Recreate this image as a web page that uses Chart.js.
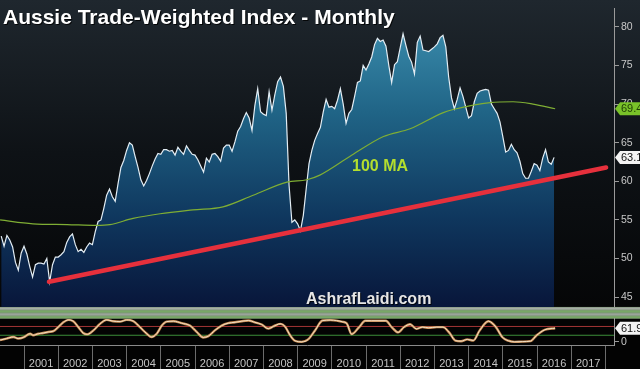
<!DOCTYPE html>
<html>
<head>
<meta charset="utf-8">
<script src="https://cdn.jsdelivr.net/npm/chart.js@4.4.1/dist/chart.umd.min.js"></script>
<style>
  html, body { margin: 0; padding: 0; background: #000; }
  #wrap { width: 640px; height: 369px; }
</style>
</head>
<body>
<div id="wrap"><canvas id="chart" width="640" height="369"></canvas></div>
<script>
// Aussie TWI, monthly closes from May 2000 to Jul 2016
const startYear = 2000;
const startMonth = 5;
const price = [
  52.9, 51.6, 53.0, 52.4, 51.5, 49.5, 48.5, 50.7,
  51.6, 50.6, 49.0, 47.6, 49.2, 49.4, 49.4, 49.3, 50.0, 47.0, 49.2, 50.2,
  50.2, 50.5, 50.9, 52.1, 52.8, 53.2, 51.8, 50.9, 51.2, 50.8, 51.5, 52.0,
  51.8, 53.5, 54.8, 55.0, 56.5, 58.2, 59.0, 58.0, 57.4, 59.7, 61.8, 62.7,
  64.0, 65.0, 64.7, 63.2, 61.8, 60.2, 59.4, 60.1, 61.0, 62.0, 62.9, 63.6,
  63.5, 64.1, 64.1, 63.9, 64.0, 63.4, 64.4, 63.9, 63.5, 64.6, 64.0, 63.5,
  63.4, 62.8, 62.0, 61.2, 63.0, 62.5, 63.5, 63.6, 63.2, 62.6, 64.3, 64.7,
  64.7, 63.9, 65.1, 66.5, 67.1, 68.1, 68.9, 68.2, 66.6, 69.8, 72.0, 69.0,
  68.7, 68.5, 71.6, 69.2, 71.2, 72.9, 73.5, 72.3, 68.8, 59.5, 54.7, 55.0,
  54.5, 53.6, 55.6, 59.0, 62.3, 64.0, 65.3, 66.2, 67.0, 69.0, 70.6, 69.6,
  69.7, 69.4, 70.5, 72.0, 70.0, 67.5, 68.8, 69.3, 71.0, 72.8, 73.0, 75.0,
  74.4, 75.2, 76.1, 77.7, 78.5, 78.1, 78.3, 77.5, 75.0, 72.8, 75.1, 75.5,
  77.3, 79.1, 77.6, 76.2, 75.4, 73.9, 78.0, 78.8, 77.0, 76.9, 76.8, 77.1,
  77.4, 77.8, 78.6, 78.9, 77.4, 73.5, 70.8, 69.4, 70.6, 72.1, 71.0, 69.6,
  68.2, 68.5, 70.3, 71.4, 71.7, 71.8, 71.9, 71.8, 70.0, 69.4, 68.8, 67.7,
  65.8, 63.8, 64.0, 64.8, 64.1, 63.7, 62.6, 61.0, 60.4, 60.4, 61.3, 62.3,
  62.1, 61.4, 63.0, 64.1, 62.5, 62.2, 63.1
];

// 100-month moving average, read at points along the curve
const maDates = [2000.30, 2001.26, 2002.26, 2003.13, 2003.51, 2004.19, 2004.98, 2005.94, 2006.82, 2007.70, 2008.69,
  2009.27, 2009.65, 2010.59, 2011.51, 2012.29, 2013.26, 2013.55, 2014.63, 2015.30, 2015.88, 2016.53];
const maValues = [55.0, 54.5, 54.4, 54.3, 54.4, 55.2, 55.8, 56.3, 56.7, 58.2, 59.9,
  60.2, 60.8, 63.4, 65.8, 66.8, 68.9, 69.3, 70.2, 70.3, 70.0, 69.4];

// support line
const trendDates = [2001.73, 2018.02];
const trendValues = [47.0, 61.8];

// stochastic panel
const stochDates = [2000.30, 2000.49, 2000.69, 2000.83, 2000.98, 2001.18, 2001.27, 2001.42, 2001.56, 2001.71, 2001.86,
  2002.00, 2002.15, 2002.30, 2002.44, 2002.59, 2002.73, 2002.85, 2003.03, 2003.22, 2003.42, 2003.61, 2003.81,
  2004.00, 2004.20, 2004.39, 2004.59, 2004.73, 2004.88, 2005.03, 2005.17, 2005.37, 2005.61, 2005.85,
  2006.05, 2006.24, 2006.39, 2006.58, 2006.78, 2006.97, 2007.17, 2007.37, 2007.56, 2007.75, 2007.95,
  2008.14, 2008.29, 2008.49, 2008.63, 2008.78, 2008.92, 2009.12, 2009.31, 2009.51, 2009.73, 2009.96,
  2010.32, 2010.44, 2010.58, 2010.80, 2010.98, 2011.16, 2011.58, 2011.75, 2011.94, 2012.11, 2012.29,
  2012.47, 2012.65, 2012.83, 2013.07, 2013.25, 2013.43, 2013.61, 2013.78, 2013.96, 2014.14, 2014.32,
  2014.58, 2014.80, 2014.98, 2015.16, 2015.34, 2015.57, 2015.81, 2015.99, 2016.23, 2016.53];
const stochValues = [8, 15, 22, 15, 20, 37, 30, 37, 40, 45, 49,
  67, 89, 100, 94, 67, 40, 34, 52, 82, 100, 94, 92,
  100, 94, 67, 37, 22, 37, 74, 92, 94, 85, 74,
  45, 20, 26, 52, 74, 85, 89, 94, 97, 89, 79,
  60, 70, 82, 70, 30, 5, 0, 11, 52, 97, 99,
  91, 83, 35, 67, 96, 96, 96, 67, 43, 67, 80,
  59, 67, 64, 67, 67, 43, 6, 3, 11, 6, 51,
  94, 67, 22, 5, 0, 1, 3, 30, 55, 61.9];
const stochLevels = [70, 30];

const yearTicks = [2001, 2002, 2003, 2004, 2005, 2006, 2007, 2008, 2009, 2010, 2011, 2012, 2013, 2014, 2015, 2016, 2017, 2018];
const priceTicks = [45, 47.5, 50, 52.5, 55, 57.5, 60, 62.5, 65, 67.5, 70, 72.5, 75, 77.5, 80];
const stochTicks = [0, 100];

const titleText = 'Aussie Trade-Weighted Index - Monthly';
const maText = '100 MA';
const markText = 'AshrafLaidi.com';

const xMin = 2000.298;
const xMax = 2018.251;
const FONT = '"Liberation Sans", Arial, sans-serif';

const pricePts = price.map((v, i) => ({ x: startYear + (startMonth - 1 + i) / 12, y: v }));
const maPts = maDates.map((d, i) => ({ x: d, y: maValues[i] }));
const trendPts = trendDates.map((d, i) => ({ x: d, y: trendValues[i] }));
const stochPts = stochDates.map((d, i) => ({ x: d, y: stochValues[i] }));
const levelSets = stochLevels.map(l => [{ x: xMin, y: l }, { x: xMax, y: l }]);

const fillGradient = (ctx) => {
  const chart = ctx.chart;
  const y = chart.scales && chart.scales.y;
  if (!chart.chartArea || !y || !isFinite(y.top) || !isFinite(y.bottom) || y.bottom <= y.top) {
    return 'rgba(30,90,130,0.8)';
  }
  const g = chart.ctx.createLinearGradient(0, y.top, 0, y.bottom);
  g.addColorStop(0, 'rgb(62,146,178)');
  g.addColorStop(0.35, 'rgb(32,100,134)');
  g.addColorStop(0.7, 'rgb(15,55,94)');
  g.addColorStop(1, 'rgb(8,22,58)');
  return g;
};

const drawTag = (ctx, x, y, text, fill, color) => {
  const h = 13;
  ctx.beginPath();
  ctx.moveTo(x, y);
  ctx.lineTo(x + 5, y - h / 2);
  ctx.lineTo(640, y - h / 2);
  ctx.lineTo(640, y + h / 2);
  ctx.lineTo(x + 5, y + h / 2);
  ctx.closePath();
  ctx.fillStyle = fill;
  ctx.fill();
  ctx.fillStyle = color;
  ctx.font = '11px ' + FONT;
  ctx.textAlign = 'left';
  ctx.textBaseline = 'middle';
  ctx.fillText(text, x + 6, y + 0.5);
};

const backdrop = {
  id: 'backdrop',
  beforeDraw(chart) {
    const { ctx } = chart;
    const y = chart.scales.y;
    const band = chart.scales.yBand;
    ctx.save();
    ctx.fillStyle = '#030303';
    ctx.fillRect(0, 0, chart.width, chart.height);
    const g = ctx.createLinearGradient(0, 0, 0, y.bottom);
    g.addColorStop(0, '#1f272e');
    g.addColorStop(0.5, '#0e1216');
    g.addColorStop(1, '#050607');
    ctx.fillStyle = g;
    ctx.fillRect(0, 0, chart.width, y.bottom);
    // separator band between panels
    const top = band.top, h = band.bottom - band.top;
    ctx.fillStyle = '#7e9678';
    ctx.fillRect(0, top, chart.width, h);
    const stripes = [['#a7ada6', 0.05], ['#78a866', 0.3], ['#9aa49a', 0.55], ['#78a866', 0.8]];
    stripes.forEach(([c, f]) => {
      ctx.fillStyle = c;
      ctx.fillRect(0, top + f * h, chart.width, 2);
    });
    ctx.restore();
  }
};

const overlay = {
  id: 'overlay',
  afterDraw(chart) {
    const { ctx } = chart;
    const y = chart.scales.y;
    const yS = chart.scales.yS;
    const x = chart.scales.x;
    ctx.save();
    ctx.textAlign = 'left';
    ctx.textBaseline = 'alphabetic';

    ctx.shadowColor = 'rgba(0,0,0,0.8)';
    ctx.shadowOffsetX = 1;
    ctx.shadowOffsetY = 1;
    ctx.font = 'bold 21px ' + FONT;
    ctx.fillStyle = '#ffffff';
    ctx.fillText(titleText, 3, 24);

    ctx.font = 'bold 16px ' + FONT;
    ctx.fillStyle = '#e6e6e6';
    ctx.fillText(markText, 306, 304);

    ctx.shadowColor = 'transparent';
    ctx.font = 'bold 16px ' + FONT;
    ctx.fillStyle = '#b4de2e';
    ctx.fillText(maText, x.getPixelForValue(2010.59), y.getPixelForValue(61.35));

    const left = y.left + 1;
    drawTag(ctx, left, y.getPixelForValue(maValues[maValues.length - 1]),
      maValues[maValues.length - 1].toFixed(1), '#79c229', '#1f3d05');
    drawTag(ctx, left, y.getPixelForValue(price[price.length - 1]),
      price[price.length - 1].toFixed(1), '#f4f4f4', '#111');
    drawTag(ctx, left, yS.getPixelForValue(stochValues[stochValues.length - 1]),
      stochValues[stochValues.length - 1].toFixed(1), '#f4f4f4', '#111');
    ctx.restore();
  }
};

const lineBase = { pointRadius: 0, fill: false };

new Chart(document.getElementById('chart'), {
  type: 'line',
  data: {
    datasets: [
      { ...lineBase, label: 'Stoch %K', data: stochPts, yAxisID: 'yS', borderColor: '#f0e2c8', borderWidth: 1, tension: 0.4, cubicInterpolationMode: 'monotone', order: 0 },
      { ...lineBase, label: 'Stoch %D', data: stochPts, yAxisID: 'yS', borderColor: '#c98a52', borderWidth: 2.4, tension: 0.4, cubicInterpolationMode: 'monotone', order: 1 },
      { ...lineBase, label: 'Upper', data: levelSets[0], yAxisID: 'yS', borderColor: '#a33535', borderWidth: 1, order: 2 },
      { ...lineBase, label: 'Lower', data: levelSets[1], yAxisID: 'yS', borderColor: '#3d8f3a', borderWidth: 1, order: 2 },
      { ...lineBase, label: 'Support', data: trendPts, yAxisID: 'y', borderColor: '#e6303c', borderWidth: 4.5, borderCapStyle: 'round', order: 3 },
      { ...lineBase, label: '100 MA', data: maPts, yAxisID: 'y', borderColor: '#7fae34', borderWidth: 1.2, tension: 0.4, cubicInterpolationMode: 'monotone', order: 4 },
      { ...lineBase, label: 'TWI', data: pricePts, yAxisID: 'y', borderColor: '#e3edf4', borderWidth: 1.2, fill: 'start', backgroundColor: fillGradient, order: 5 }
    ]
  },
  options: {
    responsive: false,
    devicePixelRatio: 1,
    animation: false,
    events: [],
    layout: { padding: 0 },
    plugins: { legend: { display: false }, tooltip: { enabled: false } },
    scales: {
      x: {
        type: 'linear',
        min: xMin,
        max: xMax,
        afterBuildTicks: s => { s.ticks = yearTicks.map(v => ({ value: v })); },
        afterFit: s => { s.height = 24; },
        grid: { drawOnChartArea: false, tickLength: 24, color: '#6c6c6c' },
        border: { display: true, color: '#8a8a8a' },
        ticks: {
          labelOffset: 17,
          padding: -12,
          color: '#c4c4c4',
          font: { size: 11, family: FONT },
          maxRotation: 0,
          autoSkip: false,
          callback: v => (v < 2018 ? String(v) : '')
        }
      },
      y: {
        position: 'right',
        stack: 'panels',
        stackWeight: 306,
        weight: 0,
        min: 43.74,
        max: 82.40,
        afterBuildTicks: s => { s.ticks = priceTicks.map(v => ({ value: v })); },
        afterFit: s => { s.width = 26; },
        grid: { drawOnChartArea: false, tickLength: 5, color: '#9a9a9a' },
        border: { display: true, color: '#9a9a9a' },
        ticks: { padding: 2, color: '#c8c8c8', font: { size: 10.5, family: FONT }, callback: v => (v % 5 === 0 ? String(v) : '') }
      },
      yBand: {
        position: 'right',
        stack: 'panels',
        stackWeight: 12,
        weight: 1,
        min: 0,
        max: 1,
        afterFit: s => { s.width = 26; },
        grid: { display: false },
        border: { display: false },
        ticks: { display: false }
      },
      yS: {
        position: 'right',
        stack: 'panels',
        stackWeight: 27,
        weight: 2,
        min: -14.4,
        max: 105.6,
        afterBuildTicks: s => { s.ticks = stochTicks.map(v => ({ value: v })); },
        afterFit: s => { s.width = 26; },
        grid: { drawOnChartArea: false, tickLength: 5, color: '#9a9a9a' },
        border: { display: true, color: '#9a9a9a' },
        ticks: { padding: 2, color: '#c8c8c8', font: { size: 10.5, family: FONT }, callback: v => (v === 0 ? '0' : '') }
      }
    }
  },
  plugins: [backdrop, overlay]
});
</script>
</body>
</html>
